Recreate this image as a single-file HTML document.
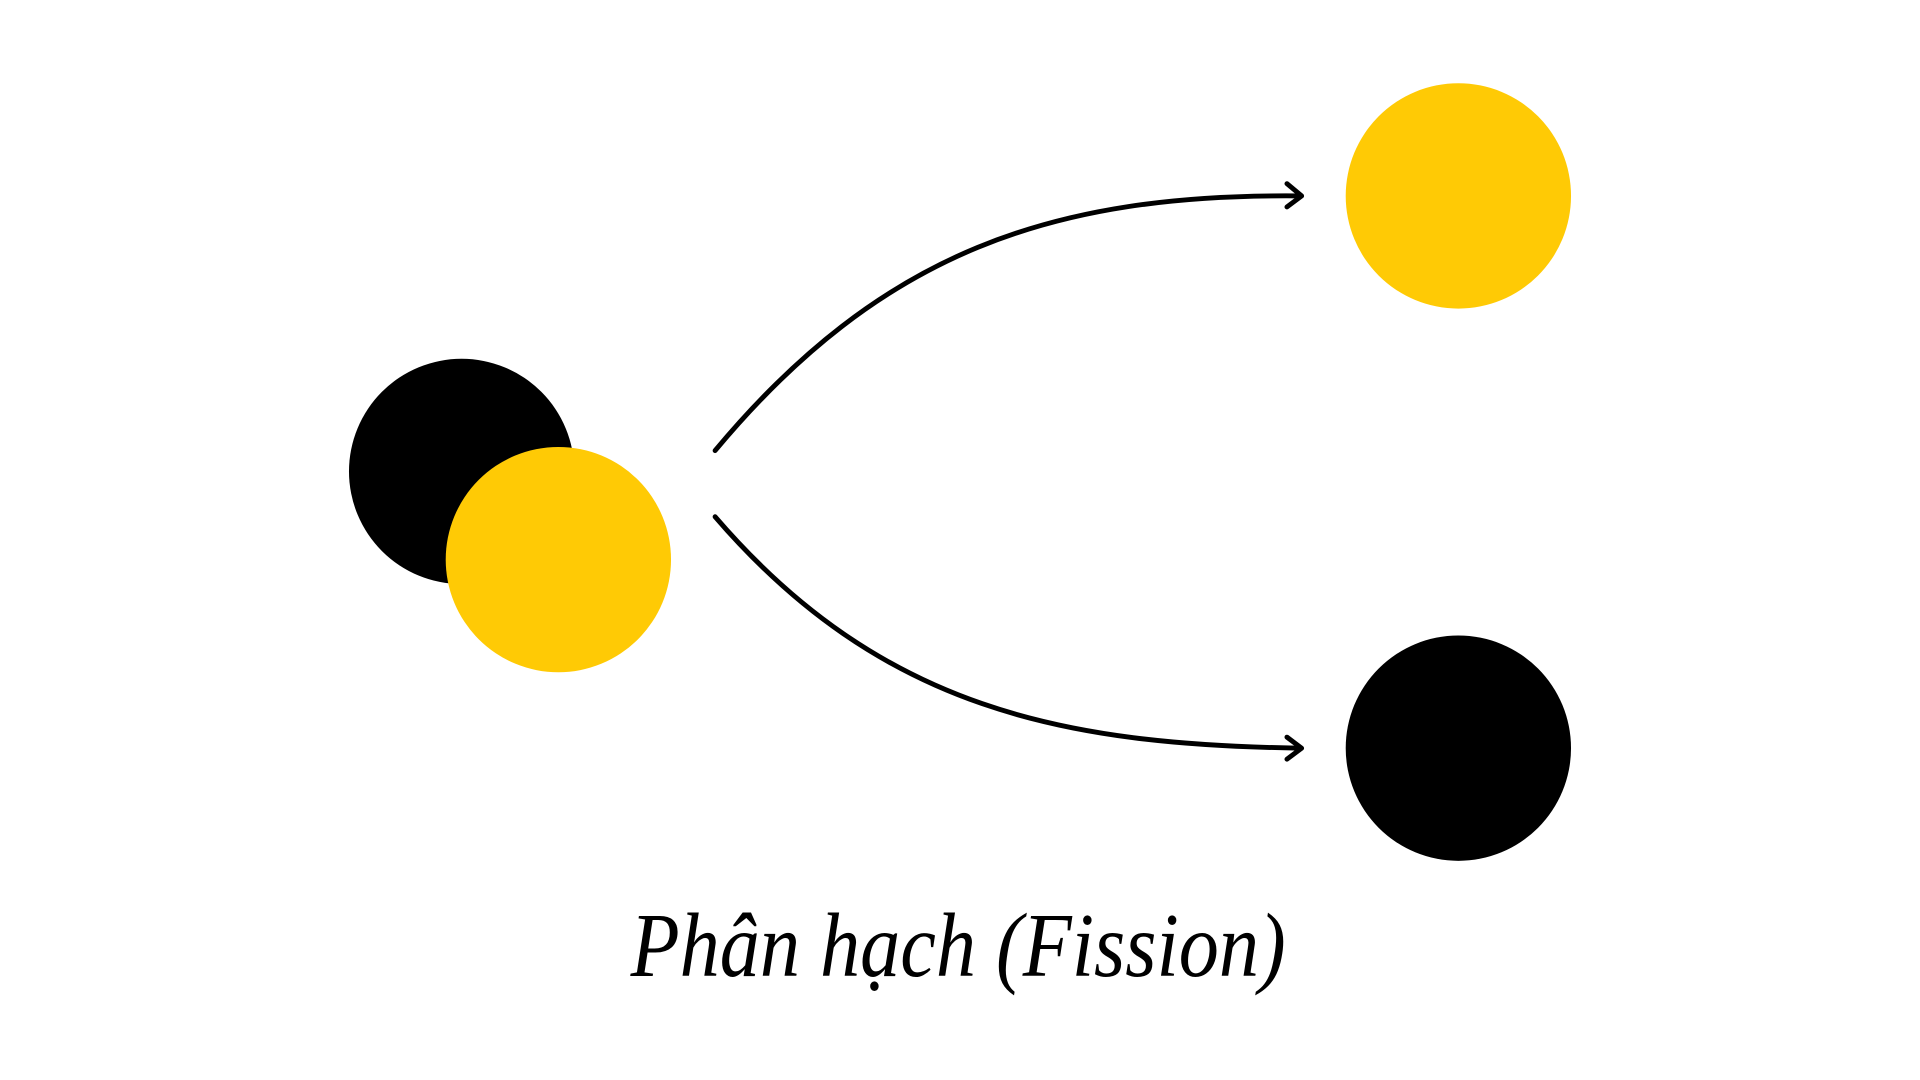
<!DOCTYPE html>
<html><head><meta charset="utf-8"><style>
html,body{margin:0;padding:0;background:#fff;width:1920px;height:1080px;overflow:hidden}
svg{display:block}
</style></head><body>
<svg width="1920" height="1080" viewBox="0 0 1568 882" xmlns="http://www.w3.org/2000/svg">
<rect width="1568" height="882" fill="#fff"/>
<circle cx="377" cy="385" r="92" fill="#000"/>
<circle cx="456" cy="457" r="92" fill="#FFCA05"/>
<circle cx="1191" cy="160" r="92" fill="#FFCA05"/>
<circle cx="1191" cy="611" r="92" fill="#000"/>
<g fill="none" stroke="#000" stroke-width="4" stroke-linecap="round" stroke-linejoin="round">
<path d="M584,368 C720,205 860,158 1062,160"/>
<path d="M1051,150 L1063,160 L1051,169"/>
<path d="M584,422 C720,580 870,608 1062,611"/>
<path d="M1051,602 L1063,611 L1051,620"/>
</g>
<text x="515" y="797" font-family="'Liberation Serif', serif" font-style="italic" font-size="74" fill="#000" textLength="535" lengthAdjust="spacingAndGlyphs">Phân hạch (Fission)</text>
</svg>
</body></html>
